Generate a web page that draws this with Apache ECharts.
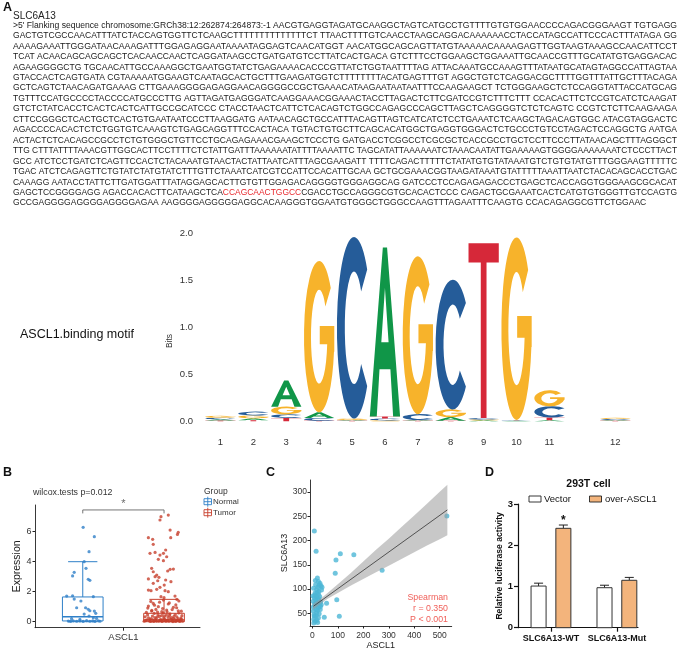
<!DOCTYPE html>
<html>
<head>
<meta charset="utf-8">
<script src="https://cdn.jsdelivr.net/npm/echarts@6/dist/echarts.min.js"></script>
<style>
  html, body { margin: 0; padding: 0; background: #fff; }
  #main { width: 685px; height: 651px; }
</style>
</head>
<body>
<div id="main"></div>
<script>
// ---- panel A: sequence text ----
const seqLines = [
  ">5' Flanking sequence chromosome:GRCh38:12:262874:264873:-1 AACGTGAGGTAGATGCAAGGCTAGTCATGCCTGTTTTGTGTGGAACCCCAGACGGGAAGT TGTGAGG",
  "GACTGTCGCCAACATTTATCTACCAGTGGTTCTCAAGCTTTTTTTTTTTTTTCT TTAACTTTTGTCAACCTAAGCAGGACAAAAAACCTACCATAGCCATTCCCACTTTATAGA GG",
  "AAAAGAAATTGGGATAACAAAGATTTGGAGAGGAATAAAATAGGAGTCAACATGGT AACATGGCAGCAGTTATGTAAAAACAAAAGAGTTGGTAAGTAAAGCCAACATTCCT",
  "TCAT ACAACAGCAGCAGCTCACAACCAACTCAGGATAAGCCTGATGATGTCCTTATCACTGACA GTCTTTCCTGGAAGCTGGAAATTGCAACCGTTTGCATATGTGAGGACAC",
  "AGAAGGGGCTG TGCAACATTGCCAAAGGCTGAATGGTATCTGAGAAAACACCCGTTATCTGGTAATTTTAG ATTACAAATGCCAAAGTTTATAATGCATAGTAGGCCATTAGTAA",
  "GTACCACTCAGTGATA CGTAAAAATGGAAGTCAATAGCACTGCTTTGAAGATGGTCTTTTTTTTACATGAGTTTGT AGGCTGTCTCAGGACGCTTTTGGTTTATTGCTTTACAGA",
  "GCTCAGTCTAACAGATGAAAG CTTGAAAGGGGAGAGGAACAGGGGCCGCTGAAACATAAGAATAATAATTTCCAAGAAGCT TCTGGGAAGCTCTCCAGGTATTACCATGCAG",
  "TGTTTCCATGCCCCTACCCCATGCCCTTG AGTTAGATGAGGGATCAAGGAAACGGAAACTACCTTAGACTCTTCGATCCGTCTTTCTTT CCACACTTCTCCGTCATCTCAAGAT",
  "GTCTCTATCACCTCACTCACTCATTGCCGCATCCC CTACCTAACTCATTCTCACAGTCTGGCCAGAGCCCAGCTTAGCTCAGGGGTCTCTCAGTC CCGTCTCTTCAAGAAGA",
  "CTTCCGGGCTCACTGCTCACTGTGAATAATCCCTTAAGGATG AATAACAGCTGCCATTTACAGTTAGTCATCATCTCCTGAAATCTCAAGCTAGACAGTGGC ATACGTAGGACTC",
  "AGACCCCACACTCTCTGGTGTCAAAGTCTGAGCAGGTTTCCACTACA TGTACTGTGCTTCAGCACATGGCTGAGGTGGGACTCTGCCCTGTCCTAGACTCCAGGCTG AATGA",
  "ACTACTCTCACAGCCGCCTCTGTGGGCTGTTCCTGCAGAGAAACGAAGCTCCCTG GATGACCTCGGCCTCGCGCTCACCGCCTGCTCCTTCCCTTATAACAGCTTTAGGGCT",
  "TTG CTTTATTTTAAACGTTGGCACTTCCTTTTCTCTATTGATTTAAAAAATATTTTAAAATTC TAGCATATTAAAAAATCTAAACAATATTGAAAAAGTGGGGAAAAAAATCTCCCTTACT",
  "GCC ATCTCCTGATCTCAGTTCCACTCTACAAATGTAACTACTATTAATCATTTAGCGAAGATT TTTTCAGACTTTTTCTATATGTGTATAAATGTCTGTGTATGTTTGGGAAGTTTTTC",
  "TGAC ATCTCAGAGTTCTGTATCTATGTATCTTTGTTCTAAATCATCGTCCATTCCACATTGCAA GCTGCGAAACGGTAAGATAAATGTATTTTTAAATTAATCTACACAGCACCTGAC",
  "CAAAGG AATACCTATTCTTGATGGATTTATAGGAGCACTTGTGTTGGAGACAGGGGTGGGAGGCAG GATCCCTCCAGAGAGACCCTGAGCTCACCAGGTGGGAAGCGCACAT",
  "GAGCTCCGGGGAGG AGACCACACTTCATAAGCTCACCAGCAACTGGCCCGACCTGCCAGGGCGTGCACACTCCC CAGACTGCGAAATCACTCATGTGTGGGTTGTCCAGTG",
  "GCCGAGGGGAGGGGAGGGGAGAA AAGGGGAGGGGGAGGCACAAGGGTGGAATGTGGGCTGGGCCAAGTTTAGAATTTCAAGTG CCACAGAGGCGTTCTGGAAC"
];
const seqHighlight = 'CCAGCAACTGGCC';
const seqHighlightLine = 16;

// ---- panel A: motif (bits per letter) ----
const motifPositions = ['1', '2', '3', '4', '5', '6', '7', '8', '9', '10', '11', '', '12'];
const motifA = [0.015, 0.02, 0.28, 0.06, 0.01, 1.80, 0.01, 0.04, 0.01, 0.005, 0.01, 0, 0.01];
const motifC = [0.015, 0.04, 0.04, 0.03, 1.93, 0.02, 0.06, 1.38, 0.015, 0.005, 0.12, 0, 0.01];
const motifG = [0.02, 0.03, 0.08, 1.61, 0.015, 0.01, 1.68, 0.08, 0.01, 1.94, 0.17, 0, 0.012];
const motifT = [0.008, 0.012, 0.035, 0.005, 0.005, 0.02, 0.005, 0.005, 1.86, 0.005, 0.03, 0, 0.005];

// ---- panel B ----
const bCategory = ['ASCL1'];
const bGroups = ['Normal', 'Tumor'];
const bCenters = [0.8, 1.2];
const bLow = [0, 0];
const bQ1 = [0.05, 0];
const bMedian = [0.33, 0.12];
const bQ3 = [1.65, 0.56];
const bHigh = [4.0, 1.49];
const bTicks = [0, 2, 4, 6];
const normalPoints = [
  [0.802, 6.29], [0.857, 5.67], [0.831, 4.67], [0.807, 4.0], [0.816, 3.56], [0.758, 3.29],
  [0.750, 3.05], [0.827, 2.83], [0.835, 2.76], [0.721, 1.71], [0.750, 1.73], [0.758, 1.51],
  [0.852, 1.67], [0.791, 1.38], [0.770, 0.93], [0.814, 0.93], [0.827, 0.83], [0.835, 0.73],
  [0.857, 0.71], [0.864, 0.56], [0.807, 0.51], [0.831, 0.38], [0.852, 0.27], [0.729, 0.04],
  [0.740, 0.02], [0.753, 0.06], [0.770, 0.03], [0.786, 0.05], [0.802, 0.02], [0.819, 0.07],
  [0.835, 0.03], [0.849, 0.05], [0.860, 0.02], [0.877, 0.06], [0.885, 0.03], [0.745, 0.2],
  [0.786, 0.15], [0.868, 0.22]
];
const tumorPoints = [
  [1.185, 7.0], [1.221, 7.11], [1.180, 6.78], [1.230, 6.11], [1.270, 5.96], [1.266, 5.82],
  [1.123, 5.6], [1.144, 5.49], [1.233, 5.6], [1.147, 5.16], [1.208, 4.78], [1.131, 4.56],
  [1.156, 4.62], [1.197, 4.56], [1.180, 4.44], [1.213, 4.33], [1.172, 4.16], [1.197, 4.07],
  [1.139, 3.56], [1.230, 3.49], [1.246, 3.51], [1.218, 3.38], [1.147, 3.33], [1.164, 3.11],
  [1.156, 3.0], [1.175, 2.96], [1.123, 2.85], [1.208, 2.78], [1.169, 2.73], [1.234, 2.67],
  [1.147, 2.56], [1.201, 2.44], [1.180, 2.29], [1.164, 2.16], [1.123, 2.11], [1.136, 2.07],
  [1.205, 2.07], [1.221, 2.0], [1.254, 1.71], [1.185, 1.67], [1.263, 1.49], [1.197, 1.44],
  [1.147, 1.22], [1.221, 1.18], [1.123, 1.04], [1.172, 1.0], [1.246, 0.96], [1.160, 0.82],
  [1.213, 0.78], [1.139, 0.71], [1.189, 0.67], [1.270, 0.73],
  [1.102, 0.03], [1.115, 0.12], [1.128, 0.05], [1.137, 0.21], [1.149, 0.02], [1.158, 0.09],
  [1.166, 0.31], [1.174, 0.04], [1.183, 0.15], [1.191, 0.02], [1.199, 0.26], [1.207, 0.07],
  [1.216, 0.11], [1.224, 0.03], [1.232, 0.18], [1.241, 0.05], [1.249, 0.36], [1.257, 0.02],
  [1.266, 0.13], [1.274, 0.06], [1.283, 0.24], [1.291, 0.03], [1.107, 0.33], [1.119, 0.45],
  [1.131, 0.14], [1.143, 0.38], [1.152, 0.55], [1.161, 0.19], [1.170, 0.47], [1.179, 0.08],
  [1.188, 0.41], [1.196, 0.57], [1.204, 0.16], [1.212, 0.44], [1.221, 0.29], [1.229, 0.52],
  [1.238, 0.10], [1.246, 0.22], [1.255, 0.48], [1.263, 0.33], [1.272, 0.58], [1.280, 0.12],
  [1.288, 0.40], [1.110, 0.07], [1.124, 0.26], [1.134, 0.02], [1.146, 0.11], [1.155, 0.28],
  [1.163, 0.04], [1.177, 0.35], [1.186, 0.06], [1.194, 0.13], [1.202, 0.37], [1.210, 0.03],
  [1.219, 0.09], [1.227, 0.42], [1.236, 0.27], [1.244, 0.01], [1.252, 0.15], [1.261, 0.08],
  [1.269, 0.20], [1.278, 0.02], [1.286, 0.16], [1.113, 0.62], [1.140, 0.75], [1.168, 0.64],
  [1.193, 0.88], [1.215, 0.66], [1.240, 0.81], [1.262, 0.93], [1.285, 0.70], [1.120, 0.91],
  [1.153, 1.10], [1.178, 1.30], [1.226, 1.25], [1.258, 1.12], [1.273, 1.38], [1.135, 1.35],
  [1.200, 1.60]
];
const bracketX = [0.8, 0.8, 1.2, 1.2];
const bracketY = [7.22, 7.45, 7.45, 7.22];

// ---- panel C ----
const cPoints = [
  [8, 220], [15, 178], [93, 160], [110, 173], [163, 171], [90, 133], [274, 139], [528, 251],
  [96, 78], [106, 44], [47, 42], [56, 71],
  [20, 123], [24, 116], [30, 112], [13, 109], [34, 107], [27, 108], [17, 99], [11, 92],
  [24, 89], [8, 82], [21, 79], [4, 75], [15, 72], [30, 72], [11, 65], [24, 62], [4, 55],
  [17, 51], [8, 44], [24, 41], [11, 34], [21, 31], [6, 38], [14, 58], [19, 68], [28, 66],
  [9, 70], [33, 74], [16, 85], [26, 95], [5, 102], [12, 118], [22, 104], [36, 98], [7, 47],
  [18, 36], [27, 49], [13, 78], [31, 58], [4, 63], [20, 56], [10, 88], [25, 80], [35, 68],
  [15, 45], [6, 30], [29, 85], [38, 104], [19, 93], [23, 73], [3, 86], [32, 64]
];
const fitX = [5, 530];
const fitY = [64.9, 263.4];
const ciX = [3, 30, 60, 100, 150, 200, 250, 300, 350, 400, 450, 500, 530];
const ciLow = [58, 69, 80, 92, 107, 121, 135, 148, 162, 176, 190, 203, 211];
const ciHigh = [70, 79, 92, 110, 133, 157, 181, 204, 228, 252, 276, 301, 315];
const cXTicks = [0, 100, 200, 300, 400, 500];
const cYTicks = [50, 100, 150, 200, 250, 300];
const cStats = ['Spearman', 'r = 0.350', 'P < 0.001'];

// ---- panel D ----
const dCategories = ['SLC6A13-WT', 'SLC6A13-Mut'];
const dVector = [1.01, 0.97];
const dVectorErr = [0.07, 0.06];
const dOver = [2.41, 1.15];
const dOverErr = [0.08, 0.07];
const dSig = ['*', ''];

// letter glyphs in a 100x100 box, stretched to each stack cell
const letterPaths = {
  A: 'M0 100 L43 0 L57 0 L100 100 L77 100 L68 72 L32 72 L23 100 Z M38 56 L62 56 L50 24 Z',
  C: 'M88.3 17.86 A50 50 0 1 0 88.3 82.14 L70.68 69.93 A27 31 0 1 1 70.68 30.07 Z',
  G: 'M88.3 17.86 A50 50 0 1 0 99 60 L100 60 L100 43 L52 43 L52 55 L76.6 55 A27 31 0 1 1 70.68 30.07 Z',
  T: 'M0 0 L100 0 L100 11 L59.5 11 L59.5 100 L40.5 100 L40.5 11 L0 11 Z'
};
const letterColors = { A: '#109648', C: '#255C99', G: '#F7B32B', T: '#D62839' };
const letterNames = ['A', 'C', 'G', 'T'];

const FONT = '"Liberation Sans", Arial, sans-serif';

// build motif stacks, smallest letter at the bottom
const motifData = [];
motifPositions.forEach(function (p, i) {
  const items = [
    { l: 0, h: motifA[i] }, { l: 1, h: motifC[i] }, { l: 2, h: motifG[i] }, { l: 3, h: motifT[i] }
  ].filter(function (d) { return d.h > 0; }).sort(function (a, b) { return a.h - b.h; });
  let base = 0;
  items.forEach(function (d) {
    motifData.push([i, base, base + d.h, d.l]);
    base += d.h;
  });
});

// sequence lines, stretched to a justified block
const seqLeft = 13, seqRight = 677, seqTop = 25.5, seqStep = 10.45, seqSize = 8.3;
const mctx = document.createElement('canvas').getContext('2d');
mctx.font = seqSize + 'px "Liberation Sans"';
const seqWidths = seqLines.map(function (l) { return mctx.measureText(l).width; });
let scaleSum = 0;
for (let i = 0; i < seqLines.length - 1; i++) scaleSum += (seqRight - seqLeft) / seqWidths[i];
const avgScale = scaleSum / (seqLines.length - 1);

const graphics = [];
function txt(x, y, text, o) {
  o = o || {};
  graphics.push({
    type: 'text', x: x, y: y, rotation: o.rotation || 0, scaleX: o.scaleX || 1,
    style: {
      text: text, fill: o.color || '#222',
      font: (o.weight || 'normal') + ' ' + (o.size || 10) + 'px ' + FONT,
      align: o.align || 'left', textAlign: o.align || 'left',
      verticalAlign: 'middle', textVerticalAlign: 'middle',
      rich: o.rich
    }
  });
}

txt(3, 8, 'A', { size: 12.5, weight: 'bold', color: '#111' });
txt(13, 16, 'SLC6A13', { size: 10 });
seqLines.forEach(function (line, i) {
  const s = i < seqLines.length - 1 ? (seqRight - seqLeft) / seqWidths[i] : avgScale;
  let text = line, rich;
  if (i === seqHighlightLine) {
    const k = line.indexOf(seqHighlight);
    text = '{n|' + line.slice(0, k) + '}{r|' + seqHighlight + '}{n|' + line.slice(k + seqHighlight.length) + '}';
    rich = {
      n: { fill: '#1a1a1a', fontSize: seqSize, fontFamily: FONT },
      r: { fill: '#e8262b', fontSize: seqSize, fontFamily: FONT }
    };
  }
  txt(seqLeft, seqTop + i * seqStep, text, { size: seqSize, scaleX: s, rich: rich, color: '#1a1a1a' });
});
txt(20, 335, 'ASCL1.binding motif', { size: 12.5, color: '#111' });
txt(170, 341, 'Bits', { size: 8.5, rotation: Math.PI / 2, align: 'center', color: '#333' });

// panel B extras
txt(3, 473, 'B', { size: 12.5, weight: 'bold', color: '#111' });
txt(33, 493, 'wilcox.tests p=0.012', { size: 8.8, color: '#333' });
txt(204, 491.5, 'Group', { size: 8.5, color: '#333' });
const bColors = ['#2f80c8', '#c7402d'];
[501.7, 512.7].forEach(function (cy, g) {
  graphics.push({ type: 'rect', shape: { x: 204, y: cy - 3, width: 7.5, height: 6 },
    style: { fill: '#fff', stroke: bColors[g], lineWidth: 0.9 } });
  graphics.push({ type: 'line', shape: { x1: 204, y1: cy, x2: 211.5, y2: cy },
    style: { stroke: bColors[g], lineWidth: 0.9 } });
  graphics.push({ type: 'line', shape: { x1: 207.75, y1: cy - 5, x2: 207.75, y2: cy + 5 },
    style: { stroke: bColors[g], lineWidth: 0.9 } });
  txt(213, cy, bGroups[g], { size: 8, color: '#333' });
});

// panel C extras
txt(266, 473, 'C', { size: 12.5, weight: 'bold', color: '#111' });
cStats.forEach(function (t, i) {
  txt(448, 597.7 + i * 10.8, t, { size: 8.8, color: '#f0605a', align: 'right' });
});

// panel D extras
txt(485, 473, 'D', { size: 12.5, weight: 'bold', color: '#111' });
txt(588.5, 484.5, '293T cell', { size: 10.5, weight: 'bold', color: '#111', align: 'center' });
graphics.push({ type: 'rect', shape: { x: 529, y: 496, width: 12, height: 6 },
  style: { fill: '#fff', stroke: '#222', lineWidth: 0.9 } });
txt(544, 499, 'Vector', { size: 9.5, color: '#111' });
graphics.push({ type: 'rect', shape: { x: 589.5, y: 496, width: 12, height: 6 },
  style: { fill: '#f3b47c', stroke: '#222', lineWidth: 0.9 } });
txt(605, 499, 'over-ASCL1', { size: 9.5, color: '#111' });

const dData = [];
dCategories.forEach(function (c, i) {
  dData.push([i + 0.5, dVector[i], dVectorErr[i], 0, i]);
  dData.push([i + 0.5, dOver[i], dOverErr[i], 1, i]);
});

const axisCol = '#222';
const chart = echarts.init(document.getElementById('main'));
const option = {
  animation: false,
  textStyle: { fontFamily: FONT },
  grid: [
    { left: 204, top: 233.3, width: 427.7, height: 188 },
    { left: 35, top: 505, width: 165, height: 122.7 },
    { left: 310, top: 480, width: 141.7, height: 146.7 },
    { left: 518, top: 504, width: 120, height: 123.7 }
  ],
  xAxis: [
    {
      gridIndex: 0, type: 'category', data: motifPositions,
      axisLine: { show: false }, axisTick: { show: false },
      axisLabel: { interval: 0, margin: 16, fontSize: 9.5, color: '#333' }
    },
    {
      gridIndex: 1, type: 'value', min: 0.565, max: 1.377, splitLine: { show: false },
      axisLine: { onZero: false, lineStyle: { color: axisCol, width: 0.9 } },
      axisTick: { customValues: [1], length: 3, lineStyle: { color: axisCol } },
      axisLabel: { customValues: [1], formatter: function () { return bCategory[0]; },
        margin: 5, fontSize: 9.5, color: '#333' }
    },
    {
      gridIndex: 2, type: 'value', min: -9, max: 547, splitLine: { show: false },
      axisLine: { onZero: false, lineStyle: { color: axisCol, width: 0.9 } },
      axisTick: { customValues: cXTicks, length: 2.5, lineStyle: { color: axisCol } },
      axisLabel: { customValues: cXTicks, margin: 5, fontSize: 8.5, color: '#333' },
      name: 'ASCL1', nameLocation: 'middle', nameGap: 15,
      nameTextStyle: { fontSize: 9, color: '#222' }
    },
    {
      gridIndex: 3, type: 'value', min: 0, max: 1.82, splitLine: { show: false },
      axisLine: { onZero: false, lineStyle: { color: '#111', width: 1.2 } },
      axisTick: { customValues: [0.5, 1.5], length: 4, lineStyle: { color: '#111', width: 1.2 } },
      axisLabel: { customValues: [0.5, 1.5], margin: 6, fontSize: 9, fontWeight: 'bold', color: '#111',
        formatter: function (v) { return dCategories[Math.round(v - 0.5)]; } }
    }
  ],
  yAxis: [
    {
      gridIndex: 0, type: 'value', min: 0, max: 2, interval: 0.5,
      axisLine: { show: false }, axisTick: { show: false }, splitLine: { show: false },
      axisLabel: { margin: 11, fontSize: 9.5, color: '#333', formatter: function (v) { return v.toFixed(1); } }
    },
    {
      gridIndex: 1, type: 'value', min: -0.4, max: 7.78, splitLine: { show: false },
      axisLine: { onZero: false, lineStyle: { color: axisCol, width: 0.9 } },
      axisTick: { customValues: bTicks, length: 2.5, lineStyle: { color: axisCol } },
      axisLabel: { customValues: bTicks, margin: 3.5, fontSize: 9, color: '#333' },
      name: 'Expression', nameLocation: 'middle', nameGap: 12.5,
      nameTextStyle: { fontSize: 10.5, color: '#222' }
    },
    {
      gridIndex: 2, type: 'value', min: 24, max: 325, splitLine: { show: false },
      axisLine: { onZero: false, lineStyle: { color: axisCol, width: 0.9 } },
      axisTick: { customValues: cYTicks, length: 2.5, lineStyle: { color: axisCol } },
      axisLabel: { customValues: cYTicks, margin: 3, fontSize: 8.5, color: '#333' },
      name: 'SLC6A13', nameLocation: 'middle', nameGap: 21,
      nameTextStyle: { fontSize: 9, color: '#222' }
    },
    {
      gridIndex: 3, type: 'value', min: 0, max: 3, interval: 1, splitLine: { show: false },
      axisLine: { show: true, onZero: false, lineStyle: { color: '#111', width: 1.2 } },
      axisTick: { show: true, length: 4, lineStyle: { color: '#111', width: 1.2 } },
      axisLabel: { margin: 5, fontSize: 9.5, fontWeight: 'bold', color: '#111' },
      name: 'Relative luciferase activity', nameLocation: 'middle', nameGap: 12,
      nameTextStyle: { fontSize: 8.6, fontWeight: 'bold', color: '#111' }
    }
  ],
  series: [
    {
      type: 'custom', xAxisIndex: 0, yAxisIndex: 0, data: motifData,
      renderItem: function (params, api) {
        const i = api.value(0), y0 = api.value(1), y1 = api.value(2);
        const l = letterNames[api.value(3)];
        const p0 = api.coord([i, y0]), p1 = api.coord([i, y1]);
        const bw = api.size([1, 0])[0] * 0.92;
        return {
          type: 'path',
          shape: { pathData: letterPaths[l], x: p0[0] - bw / 2, y: p1[1], width: bw,
            height: Math.max(p0[1] - p1[1], 0.3), layout: 'cover' },
          style: { fill: letterColors[l] }
        };
      }
    },
    {
      type: 'custom', xAxisIndex: 1, yAxisIndex: 1,
      data: bCenters.map(function (c, g) { return [c, bLow[g], bQ1[g], bMedian[g], bQ3[g], bHigh[g], g]; }),
      renderItem: function (params, api) {
        const x = api.value(0), g = api.value(6);
        const lo = api.coord([x, api.value(1)]), q1 = api.coord([x, api.value(2)]);
        const md = api.coord([x, api.value(3)]), q3 = api.coord([x, api.value(4)]);
        const hi = api.coord([x, api.value(5)]);
        const hw = api.size([0.1, 0])[0], cw = api.size([0.072, 0])[0];
        const cx = lo[0];
        const st = { stroke: bColors[g], lineWidth: 1, fill: null };
        return {
          type: 'group', children: [
            { type: 'line', shape: { x1: cx, y1: q3[1], x2: cx, y2: hi[1] }, style: st },
            { type: 'line', shape: { x1: cx, y1: q1[1], x2: cx, y2: lo[1] }, style: st },
            { type: 'line', shape: { x1: cx - cw, y1: hi[1], x2: cx + cw, y2: hi[1] }, style: st },
            { type: 'line', shape: { x1: cx - cw, y1: lo[1], x2: cx + cw, y2: lo[1] }, style: st },
            { type: 'rect', shape: { x: cx - hw, y: q3[1], width: 2 * hw, height: q1[1] - q3[1] },
              style: { stroke: bColors[g], lineWidth: 1, fill: 'rgba(255,255,255,0)' } },
            { type: 'line', shape: { x1: cx - hw, y1: md[1], x2: cx + hw, y2: md[1] },
              style: { stroke: bColors[g], lineWidth: 1.4 } }
          ]
        };
      }
    },
    {
      type: 'scatter', xAxisIndex: 1, yAxisIndex: 1, data: normalPoints,
      symbolSize: 3.2, itemStyle: { color: bColors[0] }, z: 3
    },
    {
      type: 'scatter', xAxisIndex: 1, yAxisIndex: 1, data: tumorPoints,
      symbolSize: 3.2, itemStyle: { color: bColors[1] }, z: 3
    },
    {
      type: 'line', xAxisIndex: 1, yAxisIndex: 1,
      data: bracketX.map(function (x, i) { return [x, bracketY[i]]; }),
      symbol: 'none', lineStyle: { color: '#666', width: 0.9 }
    },
    {
      type: 'scatter', xAxisIndex: 1, yAxisIndex: 1, data: [[1.0, bracketY[1]]],
      symbolSize: 0,
      label: { show: true, position: 'top', distance: 0, formatter: '*', fontSize: 11, color: '#444' }
    },
    {
      type: 'scatter', xAxisIndex: 2, yAxisIndex: 2, data: cPoints,
      symbolSize: 5, itemStyle: { color: '#4cb7d6' }, z: 2
    },
    {
      type: 'custom', xAxisIndex: 2, yAxisIndex: 2, data: [[ciX[0], ciLow[0]]], z: 3,
      renderItem: function (params, api) {
        const pts = [];
        for (let i = 0; i < ciX.length; i++) pts.push(api.coord([ciX[i], ciHigh[i]]));
        for (let i = ciX.length - 1; i >= 0; i--) pts.push(api.coord([ciX[i], ciLow[i]]));
        return { type: 'polygon', shape: { points: pts }, style: { fill: '#9a9a9a', opacity: 0.55 } };
      }
    },
    {
      type: 'line', xAxisIndex: 2, yAxisIndex: 2, z: 4,
      data: fitX.map(function (x, i) { return [x, fitY[i]]; }),
      symbol: 'none', lineStyle: { color: '#333', width: 0.8 }
    },
    {
      type: 'custom', xAxisIndex: 3, yAxisIndex: 3, data: dData,
      renderItem: function (params, api) {
        const c = api.value(0), m = api.value(1), e = api.value(2), s = api.value(3), k = api.value(4);
        const base = api.coord([c, 0]), top = api.coord([c, m]), et = api.coord([c, m + e]);
        const off = api.size([0.188, 0])[0], bw = api.size([0.228, 0])[0];
        const cx = base[0] + (s === 0 ? -off : off);
        const children = [
          { type: 'line', shape: { x1: cx, y1: top[1], x2: cx, y2: et[1] },
            style: { stroke: '#222', lineWidth: 1 } },
          { type: 'line', shape: { x1: cx - 4.5, y1: et[1], x2: cx + 4.5, y2: et[1] },
            style: { stroke: '#222', lineWidth: 1 } },
          { type: 'rect', shape: { x: cx - bw / 2, y: top[1], width: bw, height: base[1] - top[1] },
            style: { fill: s === 0 ? '#fff' : '#f3b47c', stroke: '#333', lineWidth: 1 } }
        ];
        if (s === 1 && dSig[k]) {
          children.push({ type: 'text', style: { text: dSig[k], x: cx, y: et[1] + 2,
            align: 'center', textAlign: 'center', verticalAlign: 'bottom', textVerticalAlign: 'bottom',
            font: 'bold 12px ' + FONT, fill: '#111' } });
        }
        return { type: 'group', children: children };
      }
    }
  ],
  graphic: { elements: graphics }
};
chart.setOption(option);
window.addEventListener('resize', function () { chart.resize(); });
</script>
</body>
</html>
